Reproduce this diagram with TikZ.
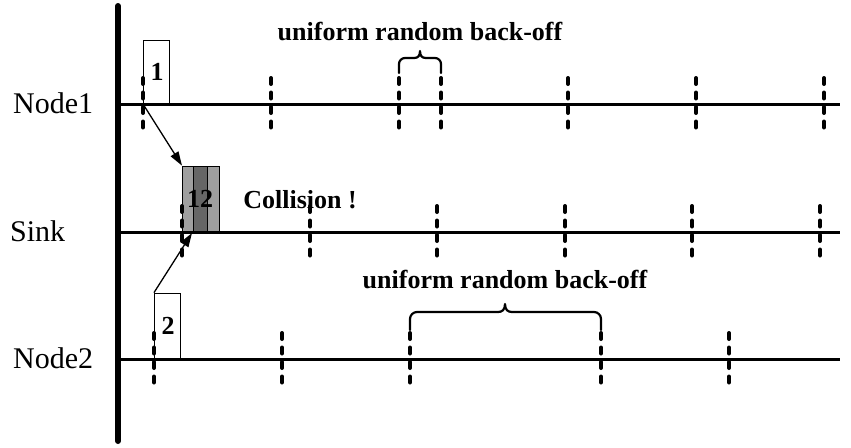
\documentclass[tikz,border=0pt]{standalone}
\usepackage{fontspec}
\setmainfont{Liberation Serif}
\usetikzlibrary{arrows.meta}
\tikzset{
  timeline/.style={line width=3pt},
  axisline/.style={line width=6pt, line cap=round},
  slot/.style={line width=4pt, line cap=round, dash pattern=on 6pt off 8.5pt},
  pktbox/.style={draw, line width=1.4pt, inner sep=0pt, anchor=south west, fill=white},
  lbl/.style={font=\fontsize{30}{30}\selectfont, anchor=base west, inner sep=0pt},
  blbl/.style={font=\fontsize{26}{26}\selectfont\bfseries, anchor=base, inner sep=0pt},
  msg/.style={line width=1.3pt, -{Triangle[length=14pt,width=9pt]}},
  bracepath/.style={line width=2.2pt, line cap=round, line join=round}
}
\begin{document}
\begin{tikzpicture}[x=1pt, y=-1pt]
\useasboundingbox (0,0) rectangle (851,447);
% axis
\coordinate (axtop) at (118,6);
\coordinate (axbot) at (118,441);
\draw[axisline] (axtop) -- (axbot);
% timelines
\coordinate (l1s) at (118,104); \coordinate (l1e) at (840,104);
\coordinate (l2s) at (118,232); \coordinate (l2e) at (840,232);
\coordinate (l3s) at (118,359); \coordinate (l3e) at (840,359);
\draw[timeline] (l1s) -- (l1e);
\draw[timeline] (l2s) -- (l2e);
\draw[timeline] (l3s) -- (l3e);
% labels
\node[lbl] (n1lbl) at (13,113) {Node1};
\node[lbl] (sklbl) at (10,241) {Sink};
\node[lbl] (n2lbl) at (13,368) {Node2};
% packet boxes
\node[pktbox, minimum width=26pt, minimum height=63pt] (b1) at (143,104) {};
\node[blbl] (t1) at (157,80) {1};
\node[pktbox, minimum width=26pt, minimum height=65pt] (b2) at (154,359) {};
\node[blbl] (t2) at (168,334) {2};
% collision box
\fill[gray!75] (182,167) rectangle (219,232);
\fill[gray!120!black] (193,167) rectangle (207,232);
\fill[black!60] (193,167) rectangle (207,232);
\draw[line width=0.8pt] (193,167) -- (193,232) (207,167) -- (207,232);
\node[draw, line width=1.4pt, inner sep=0pt, anchor=south west, minimum width=37pt, minimum height=65pt] (bc) at (182,232) {};
\node[blbl] (t12) at (200,207) {12};
\node[blbl] (coll) at (300,208) {Collision !};
% slot markers
\foreach \x in {143,271,399,441,568,696,824}
  \draw[slot] (\x,78) -- (\x,131);
\foreach \x in {182,310,437,565,692,820}
  \draw[slot] (\x,206) -- (\x,259);
\foreach \x in {154,282,410,601,729}
  \draw[slot] (\x,333) -- (\x,386);
% arrows
\coordinate (a1s) at (143,104);
\coordinate (a2e) at (192,233);
\draw[msg] (a1s) -- (bc.north west);
\draw[msg] (b2.north west) -- (a2e);
% braces
\draw[bracepath] (399,73) -- (399,64) arc[start angle=180,end angle=270,radius=6] -- (414,58) .. controls (418,58) and (420,56) .. (420,51)
  .. controls (420,56) and (422,58) .. (426,58) -- (435,58) arc[start angle=270,end angle=360,radius=6] -- (441,73);
\node[blbl] (bo1) at (420,40) {uniform random back-off};
\draw[bracepath] (410,330) -- (410,319) arc[start angle=180,end angle=270,radius=7] -- (498,312) .. controls (502,312) and (505,310) .. (505,304)
  .. controls (505,310) and (508,312) .. (512,312) -- (594,312) arc[start angle=270,end angle=360,radius=7] -- (601,330);
\node[blbl] (bo2) at (505,288) {uniform random back-off};
\end{tikzpicture}
\end{document}
